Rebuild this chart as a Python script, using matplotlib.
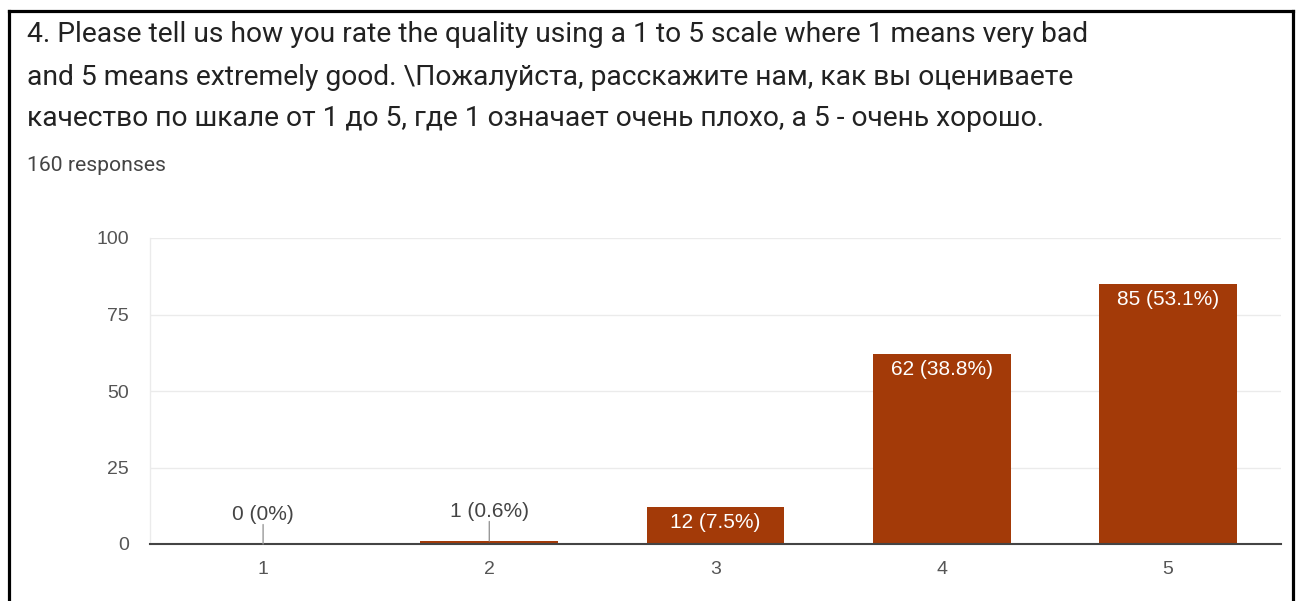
import matplotlib
matplotlib.use('Agg')
import matplotlib.pyplot as plt
from matplotlib.lines import Line2D

# данные опроса
ratings = ['1', '2', '3', '4', '5']
counts = [0, 1, 12, 62, 85]
percents = ['0%', '0.6%', '7.5%', '38.8%', '53.1%']
yticks = [0, 25, 50, 75, 100]

title_lines = [
    '4. Please tell us how you rate the quality using a 1 to 5 scale where 1 means very bad',
    'and 5 means extremely good. \\Пожалуйста, расскажите нам, как вы оцениваете',
    'качество по шкале от 1 до 5, где 1 означает очень плохо, а 5 - очень хорошо.',
]
subtitle = '160 responses'

bar_color = '#a33a08'
W, H = 1296, 601

fig = plt.figure(figsize=(W / 100, H / 100), dpi=100)
fig.patch.set_facecolor('white')

# оси в пикселях
left, right, top, bottom = 150, 1281, 238, 544
ax = fig.add_axes([left / W, 1 - bottom / H, (right - left) / W, (bottom - top) / H])

x = list(range(1, len(ratings) + 1))
ax.bar(x, counts, width=0.61, color=bar_color, zorder=3)
ax.set_xlim(0.5, 5.5)
ax.set_ylim(0, 100)
ax.set_xticks(x)
ax.set_xticklabels(ratings)
ax.set_yticks(yticks)
ax.tick_params(axis='both', length=0, labelsize=14, labelcolor='#555555')
ax.tick_params(axis='y', pad=15)
ax.tick_params(axis='x', pad=12)
for lab in ax.get_xticklabels() + ax.get_yticklabels():
    lab.set_fontfamily('Liberation Sans')
ax.grid(axis='y', color='#ebebeb', linewidth=1, zorder=0)
for s in ['top', 'right']:
    ax.spines[s].set_visible(False)
ax.spines['left'].set_color('#ebebeb')
ax.spines['left'].set_linewidth(1)
ax.spines['bottom'].set_color('#444444')
ax.spines['bottom'].set_linewidth(1.5)
ax.spines['bottom'].set_zorder(4)

# подписи столбцов
for xi, c, p in zip(x, counts, percents):
    txt = f'{c} ({p})'
    if c >= 10:
        ax.annotate(txt, (xi, c), xytext=(0, -11), textcoords='offset points',
                    ha='center', va='center', color='white', fontsize=15,
                    family='Liberation Sans', zorder=5)
    else:
        ax.annotate(txt, (xi, c), xytext=(0, 21), textcoords='offset points',
                    ha='center', va='center', color='#444444', fontsize=15,
                    family='Liberation Sans', zorder=5)
        ax.annotate('', (xi, c), xytext=(0, 14), textcoords='offset points',
                    arrowprops=dict(arrowstyle='-', color='#999999', lw=1,
                                    shrinkA=0, shrinkB=0), zorder=5)

# заголовок
baselines = [42, 85, 126]
for line, yb in zip(title_lines, baselines):
    fig.text(27 / W, 1 - yb / H, line, fontsize=20.3, family='Roboto',
             color='#222222', va='baseline', ha='left')
fig.text(27 / W, 1 - 171 / H, subtitle, fontsize=15.2, family='Roboto',
         color='#444444', va='baseline', ha='left')

# рамка скриншота
lw = 2.3
fig.add_artist(Line2D([9 / W, 9 / W], [0, 1 - 11 / H], color='black', lw=lw, transform=fig.transFigure))
fig.add_artist(Line2D([9 / W, 1293 / W], [1 - 11 / H, 1 - 11 / H], color='black', lw=lw, transform=fig.transFigure))
fig.add_artist(Line2D([1293 / W, 1293 / W], [0, 1 - 11 / H], color='black', lw=lw, transform=fig.transFigure))

fig.savefig('out.png', dpi=100)
